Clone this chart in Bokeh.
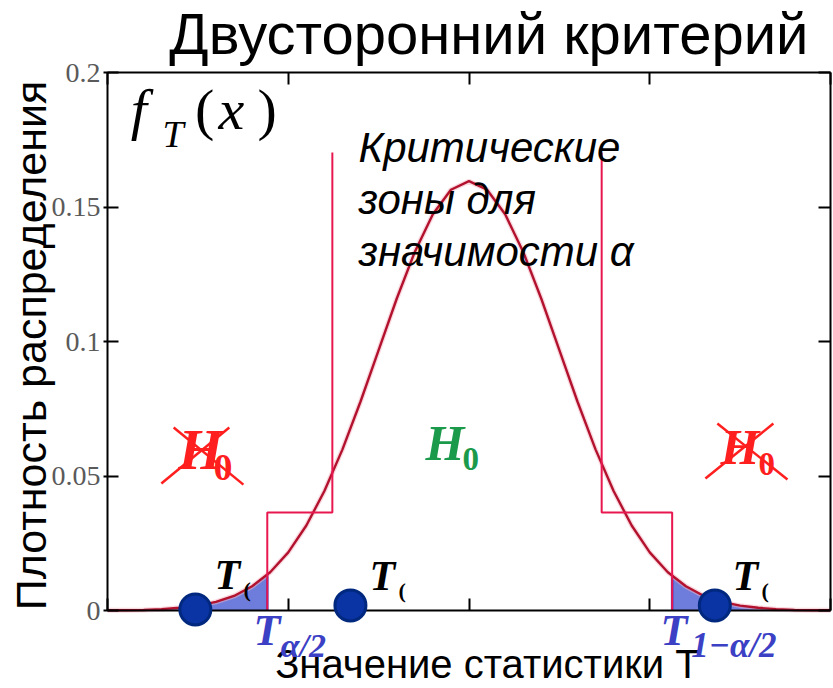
import math

from bokeh.embed import file_html
from bokeh.models import FixedTicker, Label, LinearAxis
from bokeh.plotting import figure
from bokeh.resources import INLINE

# density f_T(x) of the test statistic
x_vals = [0, 0.5, 1, 1.5, 2, 2.5, 3, 3.5, 4, 4.5, 5, 5.5, 6, 6.5, 7, 7.5, 8, 8.5, 9, 9.5,
          10, 10.5, 11, 11.5, 12, 12.5, 13, 13.5, 14, 14.5, 15, 15.5, 16, 16.5, 17, 17.5,
          18, 18.5, 19, 19.5, 20]
f_vals = [0.0001, 0.0001, 0.0002, 0.0005, 0.0010, 0.0018, 0.0032, 0.0054, 0.0090, 0.0142,
          0.0216, 0.0316, 0.0444, 0.0599, 0.0777, 0.0968, 0.1159, 0.1333, 0.1473, 0.1564,
          0.1596, 0.1564, 0.1473, 0.1333, 0.1159, 0.0968, 0.0777, 0.0599, 0.0444, 0.0316,
          0.0216, 0.0142, 0.0090, 0.0054, 0.0032, 0.0018, 0.0010, 0.0005, 0.0002, 0.0001,
          0.0001]

y_ticks = [0, 0.05, 0.1, 0.15, 0.2]
y_tick_labels = ["0", "0.05", "0.1", "0.15", "0.2"]
x_ticks = [0, 5, 10, 15, 20]

# critical values T_{a/2}, T_{1-a/2} and the density there
t_lo, t_hi = 4.42, 15.62
f_lo, f_hi = 0.0133, 0.0131
tail_start, tail_end = 1.5, 18.5

# outline of the critical zones
zone_lo_x = [6.22, 6.22, 4.42, 4.42]
zone_hi_x = [13.67, 13.67, 15.62, 15.62]
zone_y = [0.1703, 0.0364, 0.0364, 0.0]

# observed values of the statistic
obs_x = [2.43, 6.72, 16.8]
obs_y = [0.0004, 0.0019, 0.0019]

CURVE = "#b3122e"
ZONE = "#e8174f"
SHADE = "#6e7ddc"
EDGE = "#3344cc"
DOT = "#0a33a3"
DOT_EDGE = "#00287e"
T_BLUE = "#3b40c4"
CROSS = "#ff1f1f"
GREEN = "#1c9a4c"

# the plotting frame fills the whole canvas; axes sit at fixed positions inside it
X_PER_PX = 1 / 36.15
Y_PER_PX = 0.2 / 538
p = figure(width=833, height=688,
           x_range=(-107 * X_PER_PX, 726 * X_PER_PX),
           y_range=(-78 * Y_PER_PX, 610 * Y_PER_PX),
           output_backend="svg", toolbar_location=None,
           x_axis_location=None, y_axis_location=None,
           min_border=0)
p.outline_line_color = None
p.grid.visible = False
p.background_fill_color = "white"
p.border_fill_color = "white"


def hidden_axis(ticker, **kw):
    return LinearAxis(ticker=FixedTicker(ticks=ticker), major_label_text_font_size="0px",
                      major_label_text_color=None, major_label_standoff=0,
                      minor_tick_line_color=None, axis_line_width=2, axis_line_color="black",
                      major_tick_line_width=2, major_tick_line_color="black",
                      major_tick_out=0, **kw)


left = LinearAxis(ticker=FixedTicker(ticks=y_ticks), bounds=(0, 0.2), fixed_location=0,
                  major_label_overrides=dict(zip(y_ticks, y_tick_labels)),
                  major_label_text_font="Liberation Serif", major_label_text_font_size="28px",
                  major_label_text_color="#5a5a5a", major_label_standoff=3,
                  major_tick_in=11, major_tick_out=4, minor_tick_line_color=None,
                  axis_line_width=2, major_tick_line_width=2)
p.add_layout(left, "left")
p.add_layout(hidden_axis(y_ticks, bounds=(0, 0.2), fixed_location=20, major_tick_in=12), "right")
p.add_layout(hidden_axis(x_ticks, bounds=(0, 20), fixed_location=0.2, major_tick_in=12), "above")
p.add_layout(hidden_axis(x_ticks, bounds=(0, 20), fixed_location=0, major_tick_in=12), "below")

# shaded tails of the distribution
lo_x = [x for x in x_vals if tail_start <= x < t_lo] + [t_lo]
lo_f = [f for x, f in zip(x_vals, f_vals) if tail_start <= x < t_lo] + [f_lo]
hi_x = [t_hi] + [x for x in x_vals if t_hi < x <= tail_end]
hi_f = [f_hi] + [f for x, f in zip(x_vals, f_vals) if t_hi < x <= tail_end]
p.varea(x=lo_x, y1=0, y2=lo_f, fill_color=SHADE)
p.varea(x=hi_x, y1=0, y2=hi_f, fill_color=SHADE)
p.segment(x0=[t_lo, t_hi], y0=[0, 0], x1=[t_lo, t_hi], y1=[f_lo, f_hi],
          line_color=EDGE, line_width=2.5)

# density curve
p.line(x_vals, f_vals, line_color="#f3b6c2", line_width=5, line_alpha=0.5)
p.line(x_vals, f_vals, line_color=CURVE, line_width=2.4)

# critical zone outlines
p.line(zone_lo_x, zone_y, line_color=ZONE, line_width=2)
p.line(zone_hi_x, zone_y, line_color=ZONE, line_width=2)

# observed statistics
dots = p.scatter(obs_x, obs_y, size=31, fill_color=DOT, line_color=DOT_EDGE, line_width=3)
dots.level = "overlay"


def label(x, y, text, size, color="black", font="Liberation Sans", style="normal",
          align="left", baseline="alphabetic", angle=0.0):
    # raise alphabetic labels so the glyph baseline lands on y
    lift = 0.4 * size * Y_PER_PX if baseline == "alphabetic" else 0.0
    p.add_layout(Label(x=x, y=y + lift, text=text, text_font=font,
                       text_font_size=f"{size}px", text_font_style=style, text_color=color,
                       text_align=align, text_baseline=baseline, angle=angle))


SERIF = "Liberation Serif"

# title and axis titles
label(19.39, 0.2059, "Двусторонний критерий", 58, align="right")
label(-2.13, 0.0985, "Плотность распределения", 43, angle=math.pi / 2,
      align="center", baseline="middle")
label(10.51, -0.0257, "Значение статистики T", 40, align="center")

# f_T(x)
label(0.64, 0.1777, "f", 58, font=SERIF, style="italic")
label(1.52, 0.1714, "T", 38, font=SERIF, style="italic")
label(2.42, 0.1777, "(", 58, font=SERIF)
label(3.07, 0.1777, "x", 58, font=SERIF, style="italic")
label(4.15, 0.1777, ")", 58, font=SERIF)

# caption of the critical zones
for text, yy in [("Критические", 0.1658), ("зоны для", 0.1465), ("значимости α", 0.1271)]:
    label(6.94, yy, text, 42, style="italic")

# hypotheses
label(1.96, 0.0513, "H", 58, color=CROSS, font=SERIF, style="bold italic")
label(2.93, 0.0476, "0", 38, color=CROSS, font=SERIF, style="bold")
label(16.96, 0.0532, "H", 50, color=CROSS, font=SERIF, style="bold italic")
label(18.01, 0.0494, "0", 33, color=CROSS, font=SERIF, style="bold")
label(8.80, 0.0550, "H", 50, color=GREEN, font=SERIF, style="bold italic")
label(9.82, 0.0513, "0", 33, color=GREEN, font=SERIF, style="bold")

# strike-through of the rejected hypothesis
p.segment(x0=[1.49, 1.83, 16.54, 16.87], y0=[0.0472, 0.0680, 0.0491, 0.0695],
          x1=[3.37, 3.76, 18.42, 18.81], y1=[0.0680, 0.0468, 0.0695, 0.0487],
          line_color=CROSS, line_width=2.5)

# observed statistic labels
for tx, ty in [(2.96, 0.0071), (7.25, 0.0067), (17.29, 0.0067)]:
    label(tx, ty, "T", 42, font=SERIF, style="bold italic")
    label(tx + 0.80, ty - 0.0025, "(", 22, font=SERIF, style="bold")

# critical value labels
label(4.04, -0.0141, "T", 44, color=T_BLUE, font=SERIF, style="bold italic")
label(4.79, -0.0182, "α/2", 34, color=T_BLUE, font=SERIF, style="bold italic")
label(15.30, -0.0141, "T", 44, color=T_BLUE, font=SERIF, style="bold italic")
label(16.15, -0.0182, "1−α/2", 35, color=T_BLUE, font=SERIF, style="bold italic")

open("out.html", "w").write(file_html(p, INLINE))
